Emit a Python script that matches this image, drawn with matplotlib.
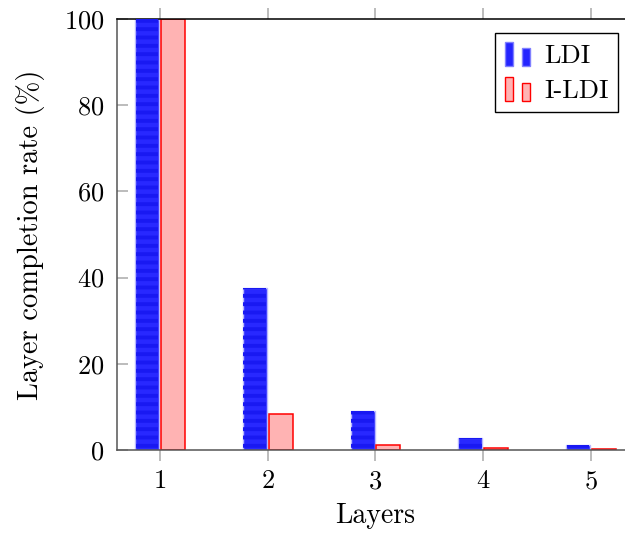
import matplotlib
matplotlib.use("Agg")
import matplotlib.pyplot as plt
from matplotlib.legend_handler import HandlerBase
from matplotlib.patches import Rectangle

plt.rcParams['font.family'] = 'serif'
plt.rcParams['font.serif'] = ['cmr10', 'DejaVu Serif']
plt.rcParams['mathtext.fontset'] = 'cm'
plt.rcParams['axes.formatter.use_mathtext'] = True
plt.rcParams['hatch.linewidth'] = 2.8

# data
layers = [1, 2, 3, 4, 5]
ldi = [100, 37.6, 9.0, 2.85, 1.15]
ildi = [100, 8.35, 1.15, 0.4, 0.15]
yticks = [0, 20, 40, 60, 80, 100]


class TwoBars(HandlerBase):
    # pgfplots style ybar legend: two small bars
    def create_artists(self, legend, orig_handle, xdescent, ydescent,
                       width, height, fontsize, trans):
        fc = orig_handle.get_facecolor()
        ec = orig_handle.get_edgecolor()
        w = width * 0.32
        r1 = Rectangle((-xdescent, -ydescent), w, height, fc=fc, ec=ec, lw=1)
        r2 = Rectangle((-xdescent + width * 0.64, -ydescent), w, height * 0.75,
                       fc=fc, ec=ec, lw=1)
        for r in (r1, r2):
            r.set_transform(trans)
        return [r1, r2]


fig = plt.figure(figsize=(6.25, 5.35), dpi=100)
ax = fig.add_axes([117 / 625, 1 - 450 / 535, (633 - 117) / 625, (450 - 19) / 535])

bw = 0.222
off = 0.12
x_l = [v - off for v in layers]
x_r = [v + off for v in layers]

ax.bar(x_l, ldi, width=bw, color='#2828ff', edgecolor='#b8b8ff', lw=1, zorder=2)
# horizontal stripes on LDI bars
ax.bar(x_l, ldi, width=bw - 0.012, facecolor='none', edgecolor='#1919f2', lw=0,
       hatch='--', zorder=3)
ax.bar(x_r, ildi, width=bw, color='#ffb3b3', edgecolor='red', lw=1.1, zorder=2)

ax.set_xlim(0.601, 5.39)
ax.set_ylim(0, 100)
ax.set_xticks(layers)
ax.set_yticks(yticks)

ax.tick_params(axis='x', direction='out', length=8, width=1.2, color='#b0b0b0',
               top=True, labelsize=19, pad=6)
ax.tick_params(axis='y', direction='in', length=8, width=1.2, color='#b0b0b0',
               right=False, labelsize=19, pad=9)

for s in ('left', 'bottom'):
    ax.spines[s].set_color('#555555')
ax.spines['top'].set_color('black')
for s in ax.spines.values():
    s.set_linewidth(1.1)

ax.set_xlabel('Layers', fontsize=20, labelpad=7)
ax.set_ylabel('Layer completion rate (%)', fontsize=20.5, labelpad=14)

h1 = Rectangle((0, 0), 1, 1, fc='#2424ff', ec='#8080ff')
h2 = Rectangle((0, 0), 1, 1, fc='#ffb3b3', ec='red')
leg = fig.legend([h1, h2], ['LDI', 'I-LDI'], handler_map={Rectangle: TwoBars()},
                 loc='upper right', bbox_to_anchor=(618 / 625, 1 - 33 / 535),
                 fontsize=19, fancybox=False, edgecolor='black', framealpha=1,
                 handlelength=1.0, handleheight=1.0, handletextpad=0.5,
                 borderpad=0.35, labelspacing=0.35, borderaxespad=0)
leg.get_frame().set_linewidth(1.0)

fig.savefig('out.png', dpi=100)
